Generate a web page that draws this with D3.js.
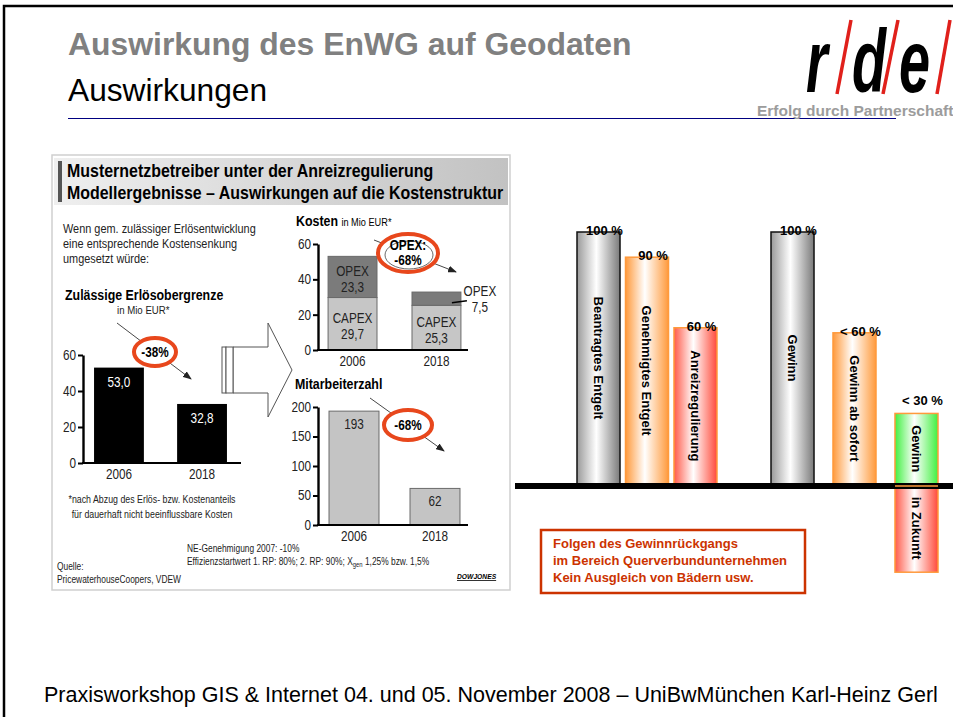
<!DOCTYPE html>
<html>
<head>
<meta charset="utf-8">
<script src="https://cdn.jsdelivr.net/npm/d3@7"></script>
<style>
  html, body { margin: 0; padding: 0; background: #fff; }
  svg { display: block; font-family: "Liberation Sans", Arial, sans-serif; }
</style>
</head>
<body>
<svg id="slide" width="953" height="717"></svg>
<script>
// Data of the left picture (Musternetzbetreiber).
const years = ["2006", "2018"];
const erloese = [53.0, 32.8];
const erloeseTicks = [0, 20, 40, 60];
const capex = [29.7, 25.3];
const opex = [23.3, 7.5];
const kostenTicks = [0, 20, 40, 60];
const mitarbeiter = [193, 62];
const mitarbeiterTicks = [0, 50, 100, 150, 200];
// Data of the right chart (percent of the requested value).
const entgeltNames = ["Beantragtes Entgelt", "Genehmigtes Entgelt", "Anreizregulierung"];
const entgeltValues = [100, 90, 62];
const entgeltLabels = ["100 %", "90 %", "60 %"];
const gewinnNames = ["Gewinn", "Gewinn ab sofort", "Gewinn"];
const gewinnValues = [100, 60, 28];
const gewinnLabels = ["100 %", "< 60 %", "< 30 %"];
const zukunftName = "in Zukunft";
const zukunftValue = -35;
// Fill style of each bar in the right chart.
const entgeltFills = ["grey", "orange", "red"];
const gewinnFills = ["grey", "orange", "green"];

const fmt = v => d3.format(".1f")(v).replace(".", ",");
const RED = "#e8471c";

const svg = d3.select("#slide");
const defs = svg.append("defs");

// The scanned picture uses a condensed font: squeeze texts around their anchor point.
function squeeze(sel, k) {
  sel.each(function () {
    const t = d3.select(this);
    const x = +t.attr("x") || 0, y = +t.attr("y") || 0;
    t.attr("transform", `translate(${x},${y}) scale(${k},1) translate(${-x},${-y})`);
  });
}

// Arrow head used for the percentage call-outs.
defs.append("marker")
  .attr("id", "arr")
  .attr("markerUnits", "userSpaceOnUse")
  .attr("markerWidth", 9).attr("markerHeight", 7)
  .attr("refX", 8).attr("refY", 3.5)
  .attr("orient", "auto")
  .append("path").attr("d", "M0,0 L9,3.5 L0,7 Z").attr("fill", "#222");

// Horizontal "cylinder" gradients for the right chart.
const gradStops = {
  grey:   ["#9a9a9a", "#ffffff", "#7a7a7a"],
  orange: ["#ff9a3c", "#ffffff", "#ff9a3c"],
  red:    ["#ff5a4a", "#ffffff", "#ff4a3a"],
  green:  ["#40f040", "#ffffff", "#40f040"]
};
Object.entries(gradStops).forEach(([k, c]) => {
  const g = defs.append("linearGradient").attr("id", "g-" + k)
    .attr("x1", 0).attr("x2", 1).attr("y1", 0).attr("y2", 0);
  g.append("stop").attr("offset", "0%").attr("stop-color", c[0]);
  g.append("stop").attr("offset", "45%").attr("stop-color", c[1]);
  g.append("stop").attr("offset", "100%").attr("stop-color", c[2]);
});
const head = defs.append("linearGradient").attr("id", "g-head")
  .attr("x1", 0).attr("x2", 1).attr("y1", 0).attr("y2", 0);
head.append("stop").attr("offset", "0%").attr("stop-color", "#efefef");
head.append("stop").attr("offset", "100%").attr("stop-color", "#c2c2c2");

/* ---------- slide frame, titles and logo ---------- */
svg.append("rect")
  .attr("x", 4).attr("y", 6).attr("width", 980).attr("height", 740)
  .attr("fill", "none").attr("stroke", "#000").attr("stroke-width", 2.5);

svg.append("text").attr("x", 68).attr("y", 55)
  .attr("font-size", 31.9).attr("font-weight", "bold").attr("fill", "#808080")
  .text("Auswirkung des EnWG auf Geodaten");
svg.append("text").attr("x", 68).attr("y", 101)
  .attr("font-size", 31.7).attr("fill", "#000")
  .text("Auswirkungen");
svg.append("line").attr("x1", 68).attr("x2", 896).attr("y1", 118.5).attr("y2", 118.5)
  .attr("stroke", "#000080").attr("stroke-width", 1.2);

// rde logo: black italic letters split by red slashes.
const logo = svg.append("g");
[["r", 806], ["d", 852], ["e", 899]].forEach(([ch, x]) => {
  logo.append("text")
    .attr("transform", `translate(${x},92) scale(0.82,1.3)`)
    .attr("font-size", 68).attr("font-weight", "bold").attr("font-style", "italic")
    .attr("fill", "#000").text(ch);
});
[[851, 837], [898, 883], [950, 937]].forEach(([xt, xb]) => {
  logo.append("line").attr("x1", xt).attr("y1", 20).attr("x2", xb).attr("y2", 94)
    .attr("stroke", "#e0201b").attr("stroke-width", 3.5);
});
svg.append("text").attr("x", 757).attr("y", 116)
  .attr("font-size", 15.5).attr("font-weight", "bold").attr("fill", "#9c9c9c")
  .text("Erfolg durch Partnerschaft");

/* ---------- left picture: model results ---------- */
const panel = svg.append("g");
panel.append("rect")
  .attr("x", 52).attr("y", 155).attr("width", 458).attr("height", 435)
  .attr("fill", "#fff").attr("stroke", "#cfcfcf").attr("stroke-width", 1.5);
panel.append("rect")
  .attr("x", 54).attr("y", 158).attr("width", 454).attr("height", 47)
  .attr("fill", "url(#g-head)");
panel.append("rect")
  .attr("x", 58).attr("y", 161).attr("width", 4).attr("height", 41).attr("fill", "#555");
panel.append("text").attr("class", "head").attr("x", 67).attr("y", 177)
  .attr("font-size", 19).attr("font-weight", "bold")
  .text("Musternetzbetreiber unter der Anreizregulierung");
panel.append("text").attr("class", "head").attr("x", 67).attr("y", 199)
  .attr("font-size", 19).attr("font-weight", "bold")
  .text("Modellergebnisse – Auswirkungen auf die Kostenstruktur");

panel.selectAll("text.intro")
  .data(["Wenn gem. zulässiger Erlösentwicklung", "eine entsprechende Kostensenkung", "umgesetzt würde:"])
  .join("text").attr("class", "intro")
  .attr("x", 63).attr("y", (d, i) => 233 + i * 15)
  .attr("font-size", 13).attr("fill", "#222").text(d => d);

// Helper to draw one of the small bar charts' axes.
function drawAxes(g, x, y, ticks, x0, x1) {
  g.append("g")
    .attr("transform", `translate(${x0},0)`)
    .call(d3.axisLeft(y).tickValues(ticks).tickSize(5).tickSizeOuter(0).tickPadding(2))
    .call(s => s.attr("font-family", null).attr("font-size", null))
    .call(s => s.select(".domain").attr("stroke-width", 2.4))
    .call(s => s.selectAll(".tick line").attr("stroke-width", 2))
    .call(s => s.selectAll(".tick text").attr("font-size", 14).attr("fill", "#222"));
  g.append("line")
    .attr("x1", x0 - 1).attr("x2", x1).attr("y1", y(0)).attr("y2", y(0))
    .attr("stroke", "#000").attr("stroke-width", 2);
  g.selectAll("text.year").data(years).join("text").attr("class", "year")
    .attr("x", d => x(d) + x.bandwidth() / 2).attr("y", y(0) + 16)
    .attr("text-anchor", "middle").attr("font-size", 14).attr("fill", "#222")
    .text(d => d);
}

// Red call-out ellipse with a text and an arrow passing behind it.
function callout(g, cx, cy, rx, ry, lines, from, to, inner) {
  g.append("line")
    .attr("x1", from[0]).attr("y1", from[1]).attr("x2", to[0]).attr("y2", to[1])
    .attr("stroke", "#333").attr("stroke-width", 0.9).attr("marker-end", "url(#arr)");
  g.append("ellipse").attr("cx", cx).attr("cy", cy).attr("rx", rx).attr("ry", ry)
    .attr("fill", "#fff").attr("stroke", RED).attr("stroke-width", 4);
  if (inner) {
    g.append("ellipse").attr("cx", cx + 1).attr("cy", cy + 2).attr("rx", rx - 6).attr("ry", ry - 5)
      .attr("fill", "none").attr("stroke", "#444").attr("stroke-width", 0.8);
  }
  lines.forEach((t, i) => {
    g.append("text").attr("x", cx).attr("y", cy + 5 + (i - (lines.length - 1) / 2) * 15)
      .attr("text-anchor", "middle").attr("font-size", 14).attr("font-weight", "bold")
      .text(t);
  });
}

// Zulässige Erlösobergrenze
const erl = panel.append("g");
erl.append("text").attr("class", "sub").attr("x", 65).attr("y", 300)
  .attr("font-size", 15.5).attr("font-weight", "bold").text("Zulässige Erlösobergrenze");
erl.append("text").attr("x", 117).attr("y", 314)
  .attr("font-size", 11.5).attr("fill", "#222").text("in Mio EUR*");
const xErl = d3.scaleBand().domain(years).range([83, 238]).paddingInner(0.4).paddingOuter(0.133);
const yErl = d3.scaleLinear().domain([0, 60]).range([463, 355]);
erl.selectAll("rect.bar").data(erloese).join("rect").attr("class", "bar")
  .attr("x", (d, i) => xErl(years[i])).attr("width", xErl.bandwidth())
  .attr("y", d => yErl(d)).attr("height", d => yErl(0) - yErl(d))
  .attr("fill", "#000");
erl.selectAll("text.val").data(erloese).join("text").attr("class", "val")
  .attr("x", (d, i) => xErl(years[i]) + xErl.bandwidth() / 2).attr("y", d => yErl(d) + 19)
  .attr("text-anchor", "middle").attr("font-size", 14).attr("fill", "#fff")
  .text(d => fmt(d));
drawAxes(erl, xErl, yErl, erloeseTicks, 83, 241);
callout(erl, 155, 352, 21, 14, ["-38%"], [117, 323], [191, 379], false);

panel.selectAll("text.note")
  .data(["*nach Abzug des Erlös- bzw. Kostenanteils", "für dauerhaft nicht beeinflussbare Kosten"])
  .join("text").attr("class", "note")
  .attr("x", 152).attr("y", (d, i) => 503 + i * 15)
  .attr("text-anchor", "middle").attr("font-size", 10.5).attr("fill", "#222").text(d => d);

// Big hollow arrow between the charts.
const bigArrow = d3.path();
bigArrow.moveTo(233, 347); bigArrow.lineTo(268, 347); bigArrow.lineTo(268, 323);
bigArrow.lineTo(292, 370); bigArrow.lineTo(268, 417); bigArrow.lineTo(268, 393);
bigArrow.lineTo(233, 393); bigArrow.closePath();
panel.append("path").attr("d", bigArrow.toString())
  .attr("fill", "#fff").attr("stroke", "#555").attr("stroke-width", 1);
panel.append("rect").attr("x", 222).attr("y", 347).attr("width", 4).attr("height", 46)
  .attr("fill", "#fff").attr("stroke", "#555").attr("stroke-width", 1);
panel.append("rect").attr("x", 226).attr("y", 347).attr("width", 7).attr("height", 46)
  .attr("fill", "#fff").attr("stroke", "#555").attr("stroke-width", 1);

// Kosten (stacked CAPEX / OPEX)
const kos = panel.append("g");
const kosTitle = kos.append("text").attr("class", "sub").attr("x", 296).attr("y", 226);
kosTitle.append("tspan").attr("font-size", 15.5).attr("font-weight", "bold").text("Kosten ");
kosTitle.append("tspan").attr("font-size", 11.5).text("in Mio EUR*");
const xKos = d3.scaleBand().domain(years).range([318, 471]).paddingInner(0.417).paddingOuter(0.12);
const yKos = d3.scaleLinear().domain([0, 60]).range([350, 244]);
const kosRows = years.map((y, i) => ({ year: y, CAPEX: capex[i], OPEX: opex[i] }));
const stacked = d3.stack().keys(["CAPEX", "OPEX"])(kosRows);
const kosFill = { CAPEX: "#c6c6c6", OPEX: "#7b7b7b" };
stacked.forEach(layer => {
  kos.append("g").selectAll("rect").data(layer).join("rect")
    .attr("x", d => xKos(d.data.year)).attr("width", xKos.bandwidth())
    .attr("y", d => yKos(d[1])).attr("height", d => yKos(d[0]) - yKos(d[1]))
    .attr("fill", kosFill[layer.key]).attr("stroke", "#6a6a6a").attr("stroke-width", 1);
  kos.append("g").selectAll("text").data(layer).join("text")
    .filter(d => d[1] - d[0] > 10)
    .attr("text-anchor", "middle").attr("font-size", 14).attr("fill", "#222")
    .attr("x", d => xKos(d.data.year) + xKos.bandwidth() / 2)
    .attr("y", d => (yKos(d[0]) + yKos(d[1])) / 2 - 1)
    .call(t => t.append("tspan").text(layer.key))
    .call(t => t.append("tspan").attr("x", d => xKos(d.data.year) + xKos.bandwidth() / 2)
      .attr("dy", 16).text(d => fmt(d.data[layer.key])));
});
// Small OPEX segment of 2018 gets its label outside.
const opexSmall = stacked[1][1];
const opexMid = (yKos(opexSmall[0]) + yKos(opexSmall[1])) / 2;
const opexRight = xKos(opexSmall.data.year) + xKos.bandwidth();
kos.append("line").attr("x1", opexRight - 9).attr("x2", opexRight + 6)
  .attr("y1", opexMid + 4).attr("y2", opexMid + 2).attr("stroke", "#000").attr("stroke-width", 1.5);
kos.append("text").attr("text-anchor", "middle").attr("font-size", 14).attr("fill", "#222")
  .attr("x", opexRight + 19).attr("y", opexMid - 3)
  .call(t => t.append("tspan").text("OPEX"))
  .call(t => t.append("tspan").attr("x", opexRight + 19).attr("dy", 16).text(fmt(opexSmall.data.OPEX)));
drawAxes(kos, xKos, yKos, kostenTicks, 318, 468);
callout(kos, 408, 253, 30, 19, ["OPEX:", "-68%"], [374, 240], [456, 272], true);

// Mitarbeiterzahl
const mit = panel.append("g");
mit.append("text").attr("class", "sub").attr("x", 295).attr("y", 389)
  .attr("font-size", 15.5).attr("font-weight", "bold").text("Mitarbeiterzahl");
const xMit = d3.scaleBand().domain(years).range([318, 471]).paddingInner(0.383).paddingOuter(0.136);
const yMit = d3.scaleLinear().domain([0, 200]).range([525, 407]);
mit.selectAll("rect.bar").data(mitarbeiter).join("rect").attr("class", "bar")
  .attr("x", (d, i) => xMit(years[i])).attr("width", xMit.bandwidth())
  .attr("y", d => yMit(d)).attr("height", d => yMit(0) - yMit(d))
  .attr("fill", "#c4c4c4").attr("stroke", "#6a6a6a").attr("stroke-width", 1);
mit.selectAll("text.val").data(mitarbeiter).join("text").attr("class", "val")
  .attr("x", (d, i) => xMit(years[i]) + xMit.bandwidth() / 2).attr("y", d => yMit(d) + 18)
  .attr("text-anchor", "middle").attr("font-size", 14).attr("fill", "#222")
  .text(d => d);
drawAxes(mit, xMit, yMit, mitarbeiterTicks, 318, 468);
callout(mit, 408, 425, 24, 15, ["-68%"], [370, 398], [444, 451], false);

// Notes and source
panel.append("text").attr("x", 187).attr("y", 552).attr("font-size", 10).attr("fill", "#222")
  .text("NE-Genehmigung 2007: -10%");
const eff = panel.append("text").attr("x", 187).attr("y", 565).attr("font-size", 10).attr("fill", "#222");
eff.append("tspan").text("Effizienzstartwert 1. RP: 80%; 2. RP: 90%; X");
eff.append("tspan").attr("font-size", 7).attr("dy", 2).text("gen");
eff.append("tspan").attr("dy", -2).text(" 1,25% bzw. 1,5%");
panel.append("text").attr("x", 57).attr("y", 570).attr("font-size", 10).attr("fill", "#222").text("Quelle:");
panel.append("text").attr("x", 57).attr("y", 583).attr("font-size", 10).attr("fill", "#222")
  .text("PricewaterhouseCoopers, VDEW");
panel.append("text").attr("x", 457).attr("y", 579).attr("font-size", 8)
  .attr("font-weight", "bold").attr("font-style", "italic").attr("text-decoration", "underline")
  .text("DOWJONES");

// Condense the texts of the scanned picture.
squeeze(panel.selectAll("text.sub"), 0.8);
squeeze(panel.selectAll("text:not(.sub)"), 0.84);

/* ---------- right chart: Entgelt und Gewinn ---------- */
const right = svg.append("g");
const yR = d3.scaleLinear().domain([0, 100]).range([484, 232]);
const xEnt = d3.scaleBand().domain(entgeltNames).range([577, 717]).paddingInner(0.113).paddingOuter(0);
const xGew = d3.scaleBand().domain(d3.range(gewinnNames.length)).range([771, 938]).paddingInner(0.306).paddingOuter(0);
const strokeOf = { grey: "#111", orange: "#ff9a3c", red: "#ff9a3c", green: "#ff9a3c" };

const bars = entgeltNames.map((n, i) => ({
  name: n, value: entgeltValues[i], label: entgeltLabels[i], fill: entgeltFills[i],
  x: xEnt(n), w: xEnt.bandwidth()
})).concat(gewinnNames.map((n, i) => ({
  name: n, value: gewinnValues[i], label: gewinnLabels[i], fill: gewinnFills[i],
  x: xGew(i), w: xGew.bandwidth()
})));
// The last profit bar continues below the axis ("in Zukunft").
const last = bars[bars.length - 1];
const below = { name: zukunftName, value: zukunftValue, fill: "red", x: last.x, w: last.w };

right.selectAll("rect.bar").data(bars.concat([below])).join("rect").attr("class", "bar")
  .attr("x", d => d.x).attr("width", d => d.w)
  .attr("y", d => yR(Math.max(0, d.value)))
  .attr("height", d => Math.abs(yR(d.value) - yR(0)))
  .attr("fill", d => `url(#g-${d.fill})`)
  .attr("stroke", d => strokeOf[d.fill]).attr("stroke-width", 1.5);

right.selectAll("text.name").data(bars.concat([below])).join("text").attr("class", "name")
  .attr("transform", d => `translate(${d.x + d.w / 2},${(yR(d.value) + yR(0)) / 2}) rotate(90)`)
  .attr("text-anchor", "middle").attr("dy", "0.35em")
  .attr("font-size", 13).attr("font-weight", "bold").attr("fill", "#000")
  .text(d => d.name);

right.selectAll("text.lab").data(bars).join("text").attr("class", "lab")
  .attr("x", d => d.x + d.w / 2 + 6)
  .attr("y", d => d.value < 40 ? yR(d.value) - 8 : yR(d.value) + 3)
  .attr("text-anchor", "middle").attr("font-size", 13).attr("font-weight", "bold")
  .text(d => d.label);

right.append("line").attr("x1", 515).attr("x2", 953).attr("y1", yR(0) + 2).attr("y2", yR(0) + 2)
  .attr("stroke", "#000").attr("stroke-width", 6);
// redraw the part of the last bar that covers the axis
right.append("line").attr("x1", last.x).attr("x2", last.x + last.w)
  .attr("y1", yR(0) + 2).attr("y2", yR(0) + 2)
  .attr("stroke", "#ff9a3c").attr("stroke-width", 1.5);

// Note box
const note = svg.append("g");
note.append("rect").attr("x", 541).attr("y", 530).attr("width", 264).attr("height", 63)
  .attr("fill", "#fff").attr("stroke", "#cc3300").attr("stroke-width", 2.5);
note.selectAll("text")
  .data(["Folgen des Gewinnrückgangs", "im Bereich Querverbundunternehmen", "Kein Ausgleich von Bädern usw."])
  .join("text").attr("x", 553).attr("y", (d, i) => 548 + i * 17)
  .attr("font-size", 13).attr("font-weight", "bold").attr("fill", "#cc3300").text(d => d);

/* ---------- footer ---------- */
svg.append("text").attr("x", 44).attr("y", 702)
  .attr("font-size", 21.5).attr("fill", "#000")
  .text("Praxisworkshop GIS & Internet 04. und 05. November 2008 – UniBwMünchen Karl-Heinz Gerl");
</script>
</body>
</html>
